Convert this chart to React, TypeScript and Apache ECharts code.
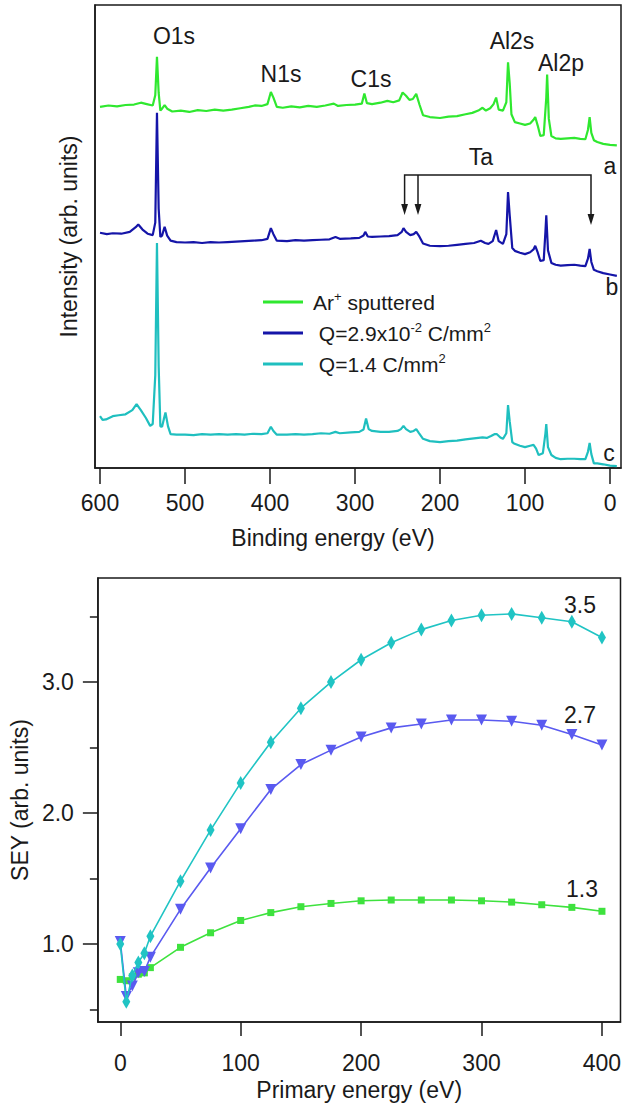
import { useEffect, useRef } from "react";
import * as echarts from "echarts";

const FONT = "'Liberation Sans', Arial, Helvetica, sans-serif";
const INK = "#1a1a1a";

// ---------- Top panel: XPS survey spectra ----------
const spectrumNames = ["Ar+ sputtered", " Q=2.9x10-2 C/mm2", " Q=1.4 C/mm2"];
const spectrumColors = ["#2fe82f", "#1515a8", "#1fbfbf"];
const bindingTicks = [600, 500, 400, 300, 200, 100, 0];

// [binding energy (eV), intensity (arb. units, offset)]
const spectrumA = [
  [600, 78.0], [590, 78.3], [580, 78.1], [570, 78.4], [560, 78.5], [552, 78.9], [545, 78.6], [538, 78.3],
  [535, 80.5], [533, 88.8], [531, 81.0], [529, 77.2], [527, 77.6], [524, 78.4], [521, 77.6], [515, 77.0],
  [505, 77.2], [495, 76.9], [485, 77.3], [475, 77.1], [465, 77.4], [455, 77.2], [445, 77.4], [435, 77.7],
  [425, 78.0], [418, 78.3], [410, 78.2], [403, 78.6], [399, 81.2], [396, 80.0], [392, 78.0], [385, 77.8],
  [375, 78.1], [365, 77.9], [355, 78.2], [345, 78.0], [335, 78.3], [325, 78.7], [320, 78.2], [310, 78.4],
  [300, 78.5], [292, 78.7], [289, 80.9], [286, 78.8], [280, 78.6], [270, 78.9], [262, 79.3], [255, 79.0],
  [248, 79.4], [244, 81.1], [240, 80.4], [236, 79.5], [232, 79.7], [228, 80.8], [224, 78.4], [220, 76.2],
  [212, 75.8], [200, 75.6], [190, 75.9], [180, 76.0], [170, 76.4], [162, 76.7], [155, 77.2], [150, 77.8],
  [146, 77.2], [141, 77.7], [137, 78.6], [134, 80.0], [131, 77.4], [126, 77.2], [122, 79.0], [120, 87.6],
  [118, 83.0], [116, 76.4], [112, 74.7], [106, 74.4], [100, 74.1], [94, 74.4], [90, 75.2], [88, 75.8],
  [85, 73.9], [82, 71.7], [78, 71.9], [75, 80.0], [74, 85.0], [72, 75.4], [69, 71.7], [64, 71.2],
  [58, 71.1], [50, 71.2], [42, 71.3], [35, 71.1], [29, 71.0], [26, 73.0], [24, 75.8], [22, 72.4],
  [19, 70.8], [15, 70.4], [8, 70.0], [0, 69.8], [-8, 69.7],
];

const spectrumB = [
  [600, 50.8], [592, 50.5], [585, 50.7], [575, 50.6], [565, 51.0], [558, 52.0], [555, 52.6], [550, 51.5],
  [544, 50.6], [538, 50.3], [535, 53.0], [533, 76.7], [531, 56.0], [529, 49.9], [527, 50.2], [524, 52.1],
  [521, 50.2], [517, 49.1], [510, 48.8], [500, 48.7], [490, 48.8], [480, 48.6], [470, 48.8], [460, 48.7],
  [450, 48.8], [440, 48.9], [430, 49.0], [420, 49.1], [410, 49.2], [403, 49.5], [399, 51.8], [396, 50.5],
  [392, 49.1], [380, 49.0], [370, 49.2], [360, 49.1], [350, 49.2], [340, 49.3], [330, 49.4], [323, 49.9],
  [318, 49.5], [305, 49.6], [295, 49.7], [290, 50.2], [288, 51.0], [285, 50.0], [280, 49.9], [270, 50.0],
  [260, 50.1], [250, 50.3], [245, 51.0], [243, 51.8], [240, 51.0], [235, 50.3], [231, 50.5], [228, 51.0],
  [225, 50.2], [220, 48.5], [212, 48.0], [200, 47.9], [190, 48.0], [180, 48.2], [170, 48.4], [160, 48.6],
  [152, 49.1], [147, 48.6], [143, 48.4], [138, 49.0], [134, 51.4], [131, 49.0], [126, 48.4], [122, 50.5],
  [120, 59.6], [118, 54.5], [115, 47.5], [112, 46.9], [106, 46.5], [100, 46.2], [94, 46.6], [90, 47.2],
  [88, 48.0], [85, 46.5], [82, 44.7], [78, 44.9], [76, 51.0], [75, 54.6], [73, 47.0], [69, 44.3],
  [64, 43.9], [58, 43.7], [50, 43.8], [42, 43.9], [35, 43.7], [29, 43.6], [26, 45.2], [24, 47.3],
  [22, 44.5], [19, 42.8], [15, 42.5], [8, 42.1], [0, 41.8], [-8, 41.5],
];

const spectrumC = [
  [600, 11.2], [597, 10.4], [593, 10.5], [585, 11.2], [578, 11.4], [570, 11.6], [562, 12.5], [557, 13.8],
  [552, 12.5], [546, 10.8], [541, 9.1], [538, 9.5], [535, 20.0], [533, 48.6], [531, 22.0], [529, 9.0],
  [527, 8.9], [525, 10.5], [523, 12.0], [520, 9.0], [517, 7.3], [510, 7.2], [500, 7.2], [490, 7.1],
  [480, 7.3], [470, 7.2], [460, 7.3], [450, 7.2], [440, 7.3], [430, 7.2], [420, 7.4], [410, 7.3],
  [403, 7.5], [399, 8.9], [396, 8.0], [392, 7.2], [380, 7.2], [370, 7.3], [360, 7.2], [350, 7.3],
  [340, 7.5], [330, 7.4], [323, 7.8], [318, 7.5], [305, 7.7], [295, 7.8], [290, 8.3], [287, 10.7],
  [284, 8.4], [280, 8.0], [270, 7.8], [260, 7.8], [250, 8.0], [246, 8.4], [243, 9.1], [240, 8.4],
  [235, 7.8], [231, 8.0], [228, 8.4], [225, 7.6], [220, 6.3], [212, 5.8], [200, 5.6], [190, 5.8],
  [180, 5.9], [170, 6.2], [160, 6.4], [150, 6.6], [145, 6.5], [140, 6.9], [136, 7.3], [133, 7.3],
  [129, 6.6], [126, 6.3], [122, 7.5], [120, 13.6], [118, 10.0], [115, 5.6], [113, 5.3], [106, 4.8],
  [100, 4.5], [94, 4.8], [90, 5.0], [87, 4.2], [84, 2.8], [79, 3.2], [76, 7.5], [75, 9.5],
  [73, 4.5], [69, 2.8], [64, 2.2], [58, 1.9], [50, 2.0], [42, 2.0], [35, 1.9], [29, 1.9],
  [26, 3.5], [24, 5.4], [22, 3.0], [19, 1.0], [15, 1.0], [8, 0.8], [0, 0.5], [-8, 0.4],
];

// ---------- Bottom panel: SEY vs primary energy ----------
const primaryEnergy = [0, 5, 10, 15, 20, 25, 50, 75, 100, 125, 150, 175, 200, 225, 250, 275, 300, 325, 350, 375, 400];
const seyAr = [0.73, 0.72, 0.75, 0.77, 0.78, 0.82, 0.975, 1.086, 1.18, 1.24, 1.285, 1.31, 1.33, 1.336, 1.336, 1.336, 1.33, 1.32, 1.30, 1.28, 1.25];
const seyQ1 = [1.02, 0.60, 0.68, 0.78, 0.79, 0.90, 1.265, 1.58, 1.88, 2.18, 2.37, 2.48, 2.58, 2.65, 2.68, 2.71, 2.71, 2.70, 2.67, 2.60, 2.52];
const seyQ2 = [1.0, 0.56, 0.76, 0.86, 0.93, 1.06, 1.48, 1.87, 2.23, 2.54, 2.80, 3.00, 3.17, 3.30, 3.40, 3.47, 3.51, 3.52, 3.49, 3.46, 3.34];
const seyNames = ["SEY Ar+ sputtered", "SEY Q=2.9x10-2 C/mm2", "SEY Q=1.4 C/mm2"];
const seyColors = ["#3ee23e", "#5a5af0", "#20c4c4"];
const energyTicks = [0, 100, 200, 300, 400];
const seyMajorTicks = [1, 2, 3];
const seyMinorTicks = [0.5, 1.5, 2.5, 3.5];
const seyMaxLabels = ["1.3", "2.7", "3.5"];

const richNames: Record<string, string> = {
  "Ar+ sputtered": "Ar{sup|+} sputtered",
  " Q=2.9x10-2 C/mm2": " Q=2.9x10{sup|-2} C/mm{sup|2}",
  " Q=1.4 C/mm2": " Q=1.4 C/mm{sup|2}",
};

function txt(text: string, x: number, y: number, size = 23) {
  return {
    type: "text",
    x,
    y,
    silent: true,
    style: { text, fontSize: size, fontFamily: FONT, fill: INK, align: "center", verticalAlign: "middle" },
  };
}

export default function App() {
  const ref = useRef<HTMLDivElement>(null);
  useEffect(() => {
    if (!ref.current) return;
    const chart = echarts.init(ref.current, undefined, { renderer: "svg" });
    const axisLineStyle = { color: INK, width: 1.5 };
    const option: any = {
      animation: false,
      backgroundColor: "#ffffff",
      textStyle: { fontFamily: FONT },
      grid: [
        { left: 95, top: 5, width: 526, height: 463, show: true, borderColor: INK, borderWidth: 1.5, backgroundColor: "transparent" },
        { left: 94, top: 578, width: 527, height: 444, show: true, borderColor: INK, borderWidth: 1.5, backgroundColor: "transparent" },
      ],
      legend: {
        data: spectrumNames,
        orient: "vertical",
        left: 258,
        top: 285,
        itemWidth: 40,
        itemHeight: 3,
        itemGap: 7,
        icon: "rect",
        selectedMode: false,
        formatter: (name: string) => richNames[name] ?? name,
        textStyle: {
          fontFamily: FONT,
          fontSize: 21,
          color: INK,
          lineHeight: 24,
          padding: [0, 0, 0, 5],
          rich: {
            sup: { fontFamily: FONT, fontSize: 13, color: INK, verticalAlign: "top", lineHeight: 12 },
          },
        },
      },
      xAxis: [
        {
          type: "value",
          gridIndex: 0,
          inverse: true,
          min: -12.9,
          max: 605.9,
          name: "Binding energy (eV)",
          nameLocation: "middle",
          nameGap: 58,
          nameTextStyle: { fontFamily: FONT, fontSize: 23, color: INK, padding: [0, 50, 0, 0] },
          axisLine: { show: true, onZero: false, lineStyle: axisLineStyle },
          axisTick: { show: true, customValues: bindingTicks, length: 16, lineStyle: axisLineStyle },
          axisLabel: { show: true, customValues: bindingTicks, margin: 23, fontFamily: FONT, fontSize: 23, color: INK },
          splitLine: { show: false },
        },
        {
          type: "value",
          gridIndex: 1,
          min: -18.6,
          max: 415.4,
          name: "Primary energy (eV)",
          nameLocation: "middle",
          nameGap: 56,
          nameTextStyle: { fontFamily: FONT, fontSize: 23, color: INK },
          axisLine: { show: true, onZero: false, lineStyle: axisLineStyle },
          axisTick: { show: true, customValues: energyTicks, length: 14, lineStyle: axisLineStyle },
          axisLabel: { show: true, customValues: energyTicks, margin: 29, fontFamily: FONT, fontSize: 23, color: INK },
          splitLine: { show: false },
        },
      ],
      yAxis: [
        {
          type: "value",
          gridIndex: 0,
          position: "left",
          min: 0,
          max: 100,
          name: "Intensity (arb. units)",
          nameLocation: "middle",
          nameGap: 15,
          nameTextStyle: { fontFamily: FONT, fontSize: 23, color: INK },
          axisLine: { show: true, onZero: false, lineStyle: axisLineStyle },
          axisTick: { show: false },
          axisLabel: { show: false },
          splitLine: { show: false },
        },
        {
          type: "value",
          gridIndex: 1,
          position: "left",
          min: 0.405,
          max: 3.794,
          name: "SEY (arb. units)",
          nameLocation: "middle",
          nameGap: 55,
          nameTextStyle: { fontFamily: FONT, fontSize: 23, color: INK },
          axisLine: { show: true, onZero: false, lineStyle: axisLineStyle },
          axisTick: { show: true, customValues: seyMajorTicks, length: 15, lineStyle: axisLineStyle },
          axisLabel: {
            show: true,
            customValues: seyMajorTicks,
            margin: 24,
            fontFamily: FONT,
            fontSize: 23,
            color: INK,
            formatter: (v: number) => v.toFixed(1),
          },
          splitLine: { show: false },
        },
        {
          type: "value",
          gridIndex: 1,
          position: "left",
          offset: 0,
          min: 0.405,
          max: 3.794,
          axisLine: { show: false, onZero: false },
          axisTick: { show: true, customValues: seyMinorTicks, length: 8, lineStyle: axisLineStyle },
          axisLabel: { show: false },
          splitLine: { show: false },
        },
      ],
      series: [
        ...[spectrumA, spectrumB, spectrumC].map((d, i) => ({
          name: spectrumNames[i],
          type: "line",
          xAxisIndex: 0,
          yAxisIndex: 0,
          data: d,
          showSymbol: false,
          symbol: "none",
          lineStyle: { color: spectrumColors[i], width: 2.2 },
          itemStyle: { color: spectrumColors[i] },
          z: 3,
        })),
        ...[seyAr, seyQ1, seyQ2].map((vals, i) => ({
          name: seyNames[i],
          type: "line",
          xAxisIndex: 1,
          yAxisIndex: 1,
          data: primaryEnergy.map((e, k) => [e, vals[k]]),
          symbol: i === 0 ? "rect" : i === 1 ? "triangle" : "diamond",
          symbolSize: i === 0 ? 7 : i === 1 ? 11 : [8, 14],
          symbolRotate: i === 1 ? 180 : 0,
          showSymbol: true,
          lineStyle: { color: seyColors[i], width: 1.6 },
          itemStyle: { color: seyColors[i] },
          z: 3 + i,
        })),
      ],
      graphic: [
        txt("O1s", 174, 36),
        txt("N1s", 281, 74),
        txt("C1s", 371, 79),
        txt("Al2s", 512, 41),
        txt("Al2p", 561, 63),
        txt("a", 610, 166),
        txt("b", 612, 287),
        txt("c", 609, 453),
        txt("Ta", 481, 157),
        {
          type: "polyline",
          silent: true,
          shape: { points: [[404.6, 208], [404.6, 175], [591, 175], [591, 218]] },
          style: { stroke: INK, lineWidth: 1.5, fill: "none" },
        },
        {
          type: "line",
          silent: true,
          shape: { x1: 418, y1: 175, x2: 418, y2: 208 },
          style: { stroke: INK, lineWidth: 1.5 },
        },
        { type: "polygon", silent: true, shape: { points: [[401.2, 204], [408, 204], [404.6, 215]] }, style: { fill: INK } },
        { type: "polygon", silent: true, shape: { points: [[414.6, 204], [421.4, 204], [418, 215]] }, style: { fill: INK } },
        { type: "polygon", silent: true, shape: { points: [[587.6, 214], [594.4, 214], [591, 225]] }, style: { fill: INK } },
        txt(seyMaxLabels[2], 580, 605),
        txt(seyMaxLabels[1], 580, 715),
        txt(seyMaxLabels[0], 582, 889),
      ],
    };
    chart.setOption(option);
    return () => chart.dispose();
  }, []);
  return <div ref={ref} style={{ position: "fixed", left: 0, top: 0, width: 624, height: 1109, background: "#fff" }} />;
}
